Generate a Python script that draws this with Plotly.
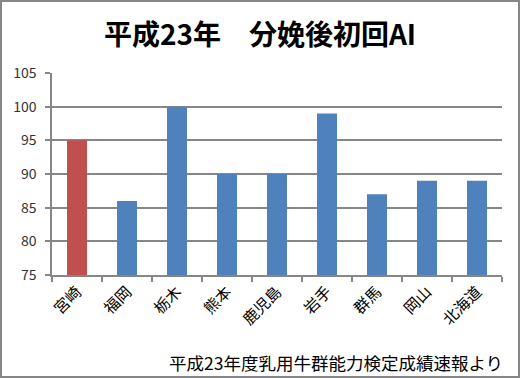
import plotly.graph_objects as go

categories = ["宮崎", "福岡", "栃木", "熊本", "鹿児島", "岩手", "群馬", "岡山", "北海道"]
values = [95, 86, 100, 90, 90, 99, 87, 89, 89]
bar_colors = ["#C0504D"] + ["#4F81BD"] * 8
y_ticks = [75, 80, 85, 90, 95, 100, 105]
title_text = "平成23年　分娩後初回AI"
source_text = "平成23年度乳用牛群能力検定成績速報より"

W, H = 520, 378
L, R, T, B = 52, 18, 73, 103
pw, ph = W - L - R, H - T - B

font_family = "Noto Sans CJK JP, Noto Sans, sans-serif"

fig = go.Figure(go.Bar(
    x=categories, y=values, marker=dict(color=bar_colors, line=dict(width=0)),
    width=0.4,
))

fig.update_layout(
    width=W, height=H,
    margin=dict(l=L, r=R, t=T, b=B, autoexpand=False),
    paper_bgcolor="white", plot_bgcolor="white",
    font=dict(family=font_family, color="#000000"),
    showlegend=False,
    title=dict(text=title_text, x=0.5, xanchor="center", y=1 - 35 / H, yanchor="middle",
               font=dict(size=28, family=font_family, weight="bold", color="#000000")),
    xaxis=dict(
        type="category", tickangle=-45, tickfont=dict(size=15.5, color="#000000"),
        showline=True, linecolor="#868686", linewidth=1.5,
        ticks="outside", ticklen=5, tickcolor="#868686", tickwidth=1.5,
        tickson="boundaries", showgrid=False,
    ),
    yaxis=dict(
        range=[75, 105], tickvals=y_ticks, tickfont=dict(size=14, color="#333333"),
        showline=True, linecolor="#868686", linewidth=1.5,
        ticks="outside", ticklen=5, tickcolor="#868686", tickwidth=1.5,
        ticklabelstandoff=6,
        showgrid=True, gridcolor="#868686", gridwidth=1.5, zeroline=False,
    ),
    shapes=[dict(
        type="rect", xref="paper", yref="paper",
        x0=-(L - 1) / pw, x1=1 + (R - 1) / pw,
        y0=-(B - 1) / ph, y1=1 + (T - 1) / ph,
        line=dict(color="#868686", width=2), fillcolor="rgba(0,0,0,0)",
    )],
    annotations=[dict(
        text=source_text, xref="paper", yref="paper",
        x=(505 - L) / pw, y=-(362 - (T + ph)) / ph,
        xanchor="right", yanchor="middle", showarrow=False,
        font=dict(size=17.5, color="#000000"),
    )],
)

fig.write_html(
    "out.html",
    config={"displayModeBar": False},
    post_script="document.body.style.margin='0';document.body.style.overflow='hidden';",
)
